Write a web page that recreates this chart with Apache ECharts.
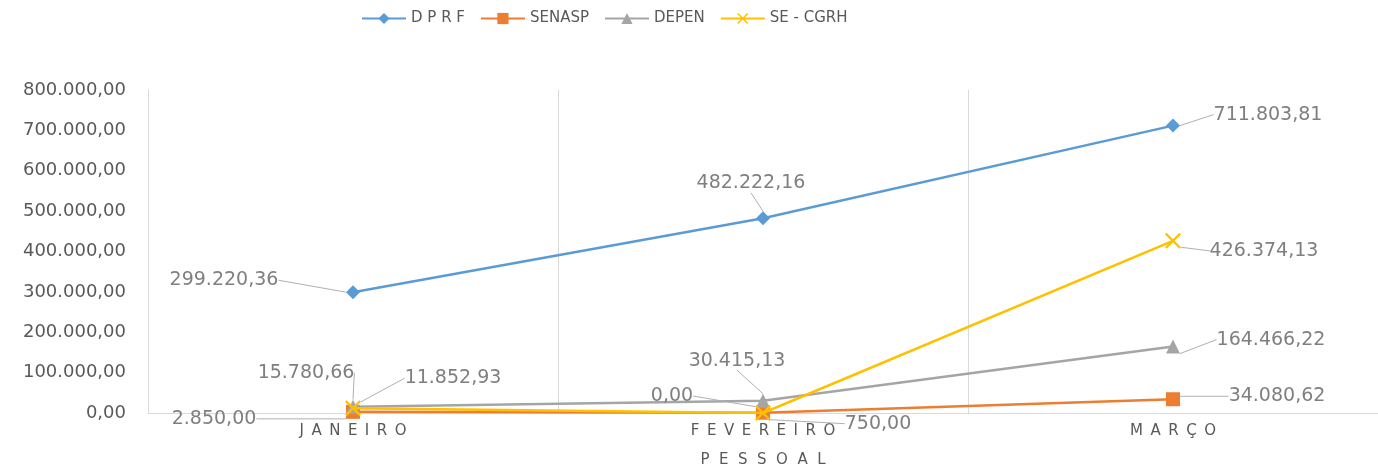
<!DOCTYPE html>
<html>
<head>
<meta charset="utf-8">
<style>
  html, body { margin: 0; padding: 0; background: #ffffff; overflow: hidden; }
  #chart { width: 1378px; height: 473px; }
</style>
<script src="https://cdn.jsdelivr.net/npm/echarts@6/dist/echarts.min.js"></script>
</head>
<body>
<div id="chart"></div>
<script>
// ---- data ----
const categories = ['JANEIRO', 'FEVEREIRO', 'MARÇO'];
const axisName = 'PESSOAL';
const seriesNames = ['D P R F', 'SENASP', 'DEPEN', 'SE - CGRH'];
const dprf = [299220.36, 482222.16, 711803.81];
const senasp = [2850.00, 750.00, 34080.62];
const depen = [15780.66, 30415.13, 164466.22];
const seCgrh = [11852.93, 0.00, 426374.13];
const yMin = 0, yMax = 800000, yStep = 100000;

// ---- style ----
const colors = ['#5B9BD5', '#ED7D31', '#A5A5A5', '#FFC000'];
const symbols = ['diamond', 'rect', 'triangle',
  'path://M0,1L1,0L5,4L9,0L10,1L6,5L10,9L9,10L5,6L1,10L0,9L4,5Z'];
const symbolSizes = [14, 14, 14, 16];
// label offsets (dx, dy) from each point, per series
const labelOffsets = [
  [[-129, -12], [-12, -35], [95, -11]],
  [[-139, 7], [115, 11], [104, -3]],
  [[-47, -34], [-26, -40], [98, -7]],
  [[100, -30], [-91, -17], [91, 10]]
];

function fmtBR(v) {
  const neg = v < 0;
  v = Math.abs(v);
  const parts = v.toFixed(2).split('.');
  const intPart = parts[0].replace(/\B(?=(\d{3})+(?!\d))/g, '.');
  return (neg ? '-' : '') + intPart + ',' + parts[1];
}
function spaced(s, sep) { return s.split('').join(sep); }

const allData = [dprf, senasp, depen, seCgrh];
const FONT = 'DejaVu Sans';

const chart = echarts.init(document.getElementById('chart'), null, { renderer: 'canvas', width: 1378, height: 473 });

const series = allData.map((d, si) => ({
  name: seriesNames[si],
  type: 'line',
  data: d,
  color: colors[si],
  symbol: symbols[si],
  symbolSize: symbolSizes[si],
  lineStyle: { width: 2.5, color: colors[si] },
  itemStyle: { color: colors[si] },
  z: 2 + si,
  label: {
    show: true,
    position: 'inside',
    formatter: p => fmtBR(p.value),
    color: '#7f7f7f',
    fontFamily: FONT,
    fontSize: 19
  },
  labelLine: {
    show: true,
    lineStyle: { color: '#b0b0b0', width: 1 }
  },
  labelLayout: function (params) {
    const o = labelOffsets[si][params.dataIndex];
    return { dx: o[0], dy: o[1] };
  }
}));

chart.setOption({
  animation: false,
  backgroundColor: '#ffffff',
  legend: {
    top: 6,
    left: 356,
    itemWidth: 44,
    itemHeight: 14,
    itemGap: 15,
    textStyle: { color: '#595959', fontFamily: FONT, fontSize: 15 },
    data: seriesNames
  },
  grid: { left: 148, top: 90, width: 1238, height: 327, containLabel: false },
  xAxis: {
    type: 'category',
    data: categories,
    boundaryGap: true,
    name: spaced(axisName, '  '),
    nameLocation: 'middle',
    nameGap: 40,
    nameTextStyle: {
      color: '#595959', fontFamily: FONT, fontSize: 15
    },
    axisLine: { show: true, lineStyle: { color: '#d9d9d9', width: 1 } },
    axisTick: { show: false },
    splitLine: { show: true, lineStyle: { color: '#d9d9d9', width: 1 } },
    axisLabel: {
      color: '#595959', fontFamily: FONT, fontSize: 15, margin: 11,
      formatter: v => spaced(v, '\u2002')
    }
  },
  yAxis: {
    type: 'value',
    min: yMin, max: yMax, interval: yStep,
    axisLine: { show: true, lineStyle: { color: '#d9d9d9' } },
    axisTick: { show: false },
    splitLine: { show: false },
    axisLabel: {
      color: '#595959', fontFamily: FONT, fontSize: 18, margin: 22,
      formatter: v => fmtBR(v)
    }
  },
  series: series
});
</script>
</body>
</html>
